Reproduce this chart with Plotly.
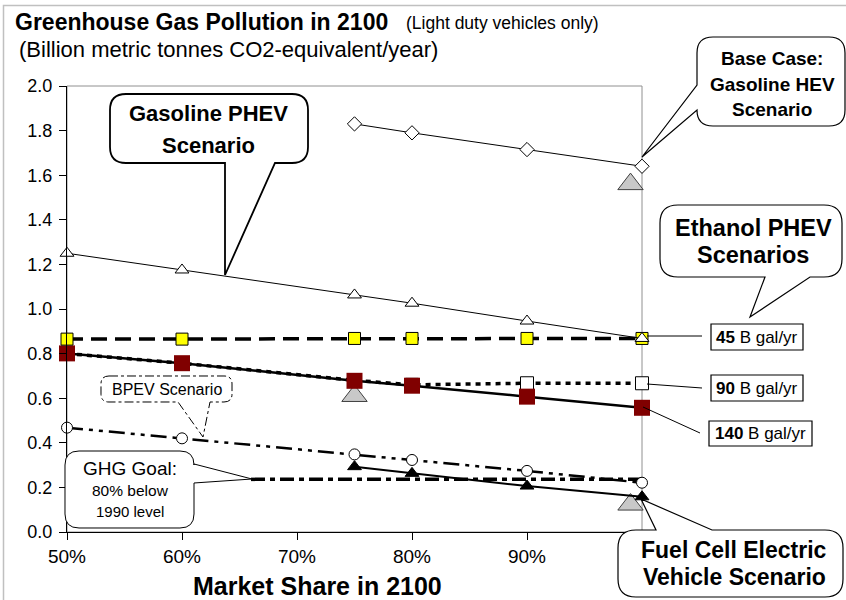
import plotly.graph_objects as go

# ---------------- data ----------------
share = [50, 60, 75, 80, 90, 100]
hev_x = [75, 80, 90, 100]
hev_y = [1.83, 1.79, 1.715, 1.64]
gas_phev_y = [1.25, 1.175, 1.063, 1.026, 0.946, 0.868]
eth45_y = [0.865, 0.865, 0.868, 0.868, 0.868, 0.868]
eth90_y = [0.80, 0.757, 0.68, 0.66, 0.667, 0.667]
eth140_y = [0.801, 0.757, 0.678, 0.656, 0.607, 0.557]
bpev_y = [0.468, 0.420, 0.348, 0.323, 0.274, 0.221]
fcev_x = [75, 80, 90, 100]
fcev_y = [0.293, 0.263, 0.206, 0.158]
ghg_x = [66, 100]
ghg_y = [0.236, 0.236]
ref_x = [99, 75, 99]
ref_y = [1.56, 0.61, 0.123]

x_ticks = [50, 60, 70, 80, 90, 100]
x_ticktext = ["50%", "60%", "70%", "80%", "90%", ""]
y_ticks = [0.0, 0.2, 0.4, 0.6, 0.8, 1.0, 1.2, 1.4, 1.6, 1.8, 2.0]

FONT = "Liberation Sans, Arial, sans-serif"

# plot-area pixel frame
PL, PR, PT, PB = 67, 642, 86, 532
W, H = 846, 600


def P(px, py):
    return ((px - PL) / (PR - PL), (PB - py) / (PB - PT))


def callout_path(x0, y0, x1, y1, r, side=None, a=None, b=None, tip=None):
    s = []

    def M(x, y):
        s.append("M%.5f,%.5f" % P(x, y))

    def L(x, y):
        s.append("L%.5f,%.5f" % P(x, y))

    def Q(cx, cy, x, y):
        s.append("Q%.5f,%.5f %.5f,%.5f" % (P(cx, cy) + P(x, y)))

    M(x0 + r, y0)
    if side == "top":
        L(a, y0); L(*tip); L(b, y0)
    L(x1 - r, y0); Q(x1, y0, x1, y0 + r)
    if side == "right":
        L(x1, a); L(*tip); L(x1, b)
    L(x1, y1 - r); Q(x1, y1, x1 - r, y1)
    if side == "bottom":
        L(b, y1); L(*tip); L(a, y1)
    L(x0 + r, y1); Q(x0, y1, x0, y1 - r)
    if side == "left":
        L(x0, b); L(*tip); L(x0, a)
    L(x0, y0 + r); Q(x0, y0, x0 + r, y0)
    s.append("Z")
    return " ".join(s)


fig = go.Figure()

# reference gray triangles
fig.add_trace(go.Scatter(x=ref_x, y=ref_y, mode="markers", cliponaxis=False,
                         marker=dict(symbol="triangle-up", size=22, color="#C8C8C8",
                                     line=dict(color="#404040", width=1)),
                         showlegend=False))
# GHG goal
fig.add_trace(go.Scatter(x=ghg_x, y=ghg_y, mode="lines", cliponaxis=False,
                         line=dict(color="black", width=3.5, dash="14px,5px,5px,5px"),
                         showlegend=False))
# Base case HEV
fig.add_trace(go.Scatter(x=hev_x, y=hev_y, mode="lines+markers", cliponaxis=False,
                         line=dict(color="black", width=1),
                         marker=dict(symbol="diamond", size=11, color="white",
                                     line=dict(color="black", width=1)),
                         showlegend=False))
# Ethanol 90
fig.add_trace(go.Scatter(x=share, y=eth90_y, mode="lines+markers", cliponaxis=False,
                         line=dict(color="black", width=3.5, dash="5px,5px"),
                         marker=dict(symbol="square", size=13, color="white",
                                     line=dict(color="black", width=1)),
                         showlegend=False))
# Ethanol 140
fig.add_trace(go.Scatter(x=share, y=eth140_y, mode="lines+markers", cliponaxis=False,
                         line=dict(color="black", width=2.5),
                         marker=dict(symbol="square", size=16, color="#800000",
                                     line=dict(color="#800000", width=0)),
                         showlegend=False))
# Ethanol 45
fig.add_trace(go.Scatter(x=share, y=eth45_y, mode="lines+markers", cliponaxis=False,
                         line=dict(color="black", width=3.5, dash="16px,8px"),
                         marker=dict(symbol="square", size=12, color="#FFFF00",
                                     line=dict(color="black", width=1)),
                         showlegend=False))
# Gasoline PHEV
fig.add_trace(go.Scatter(x=share, y=gas_phev_y, mode="lines+markers", cliponaxis=False,
                         line=dict(color="black", width=1),
                         marker=dict(symbol="triangle-up", size=12, color="white",
                                     line=dict(color="black", width=1)),
                         showlegend=False))
# BPEV
fig.add_trace(go.Scatter(x=share, y=bpev_y, mode="lines+markers", cliponaxis=False,
                         line=dict(color="black", width=2.5, dash="16px,6px,4px,6px,4px,6px"),
                         marker=dict(symbol="circle", size=11, color="white",
                                     line=dict(color="black", width=1)),
                         showlegend=False))
# FCEV
fig.add_trace(go.Scatter(x=fcev_x, y=fcev_y, mode="lines+markers", cliponaxis=False,
                         line=dict(color="black", width=2),
                         marker=dict(symbol="triangle-up", size=12, color="black",
                                     line=dict(color="black", width=1)),
                         showlegend=False))

shapes = []
# outer chart frame
x0, y0 = P(3.5, 5.5)
x1, y1 = P(900, 700)
shapes.append(dict(type="rect", xref="paper", yref="paper", x0=x0, y0=y1, x1=x1, y1=y0,
                   line=dict(color="#C0C0C0", width=1.5), layer="below"))
# plot-area border
shapes.append(dict(type="rect", xref="paper", yref="paper", x0=0, y0=0, x1=1, y1=1,
                   line=dict(color="#909090", width=1), layer="below"))

callouts = [
    dict(box=(110, 94, 308, 163), r=16, side="bottom", a=225, b=275, tip=(225, 275), w=1.8, dash=None),
    dict(box=(697, 37, 845, 126), r=16, side="left", a=85, b=110, tip=(642, 157), w=1.2, dash=None),
    dict(box=(660, 205, 842, 277), r=18, side="bottom", a=765, b=810, tip=(750, 317), w=1.2, dash=None),
    dict(box=(618, 530, 843, 597), r=18, side="top", a=656, b=712, tip=(641, 499), w=1.2, dash=None),
    dict(box=(101, 376, 232, 402), r=8, side="bottom", a=178, b=210, tip=(203, 437), w=1, dash="dashdot"),
    dict(box=(65, 451, 194, 528), r=14, side="right", a=464, b=483, tip=(252, 479), w=1, dash=None),
]
for c in callouts:
    bx = c["box"]
    shapes.append(dict(type="path", xref="paper", yref="paper",
                       path=callout_path(bx[0], bx[1], bx[2], bx[3], c["r"], c["side"], c["a"], c["b"], c["tip"]),
                       line=dict(color="black", width=c["w"], dash=c["dash"]),
                       fillcolor="white", layer="above"))

# label boxes with connectors
label_boxes = [
    dict(box=(711, 324, 803, 350), line=((647, 336), (702, 336))),
    dict(box=(711, 375, 803, 401), line=((647, 384), (702, 388))),
    dict(box=(709, 421, 812, 446), line=((643, 407), (700, 433))),
]
for lb in label_boxes:
    bx = lb["box"]
    a0 = P(bx[0], bx[1]); a1 = P(bx[2], bx[3])
    shapes.append(dict(type="rect", xref="paper", yref="paper", x0=a0[0], y0=a1[1], x1=a1[0], y1=a0[1],
                       line=dict(color="black", width=1.2), fillcolor="white", layer="above"))
    p0 = P(*lb["line"][0]); p1 = P(*lb["line"][1])
    shapes.append(dict(type="line", xref="paper", yref="paper", x0=p0[0], y0=p0[1], x1=p1[0], y1=p1[1],
                       line=dict(color="black", width=1), layer="above"))

annotations = []


def ann(px, py, text, size, xanchor="center", color="black"):
    x, y = P(px, py)
    annotations.append(dict(x=x, y=y, xref="paper", yref="paper", text=text, showarrow=False,
                            xanchor=xanchor, yanchor="middle",
                            font=dict(family=FONT, size=size, color=color)))


ann(13, 22, "<b>Greenhouse Gas Pollution in 2100</b>", 23, "left")
ann(404, 23, "(Light duty vehicles only)", 17.5, "left")
ann(17, 50, "(Billion metric tonnes CO2-equivalent/year)", 22, "left")
ann(317, 586, "<b>Market Share in 2100</b>", 25)

ann(208, 114, "<b>Gasoline PHEV</b>", 22)
ann(208, 145, "<b>Scenario</b>", 22)
ann(772, 58, "<b>Base Case:</b>", 19)
ann(772, 84, "<b>Gasoline HEV</b>", 19)
ann(772, 109, "<b>Scenario</b>", 19)
ann(753, 228, "<b>Ethanol PHEV</b>", 23.5)
ann(753, 255, "<b>Scenarios</b>", 23.5)
ann(734, 550, "<b>Fuel Cell Electric</b>", 23)
ann(734, 577, "<b>Vehicle Scenario</b>", 23)
ann(757, 337, "<b>45</b> B gal/yr", 17)
ann(757, 388, "<b>90</b> B gal/yr", 17)
ann(760, 433, "<b>140</b> B gal/yr", 17)
ann(167, 389, "BPEV Scenario", 16)
ann(130, 468, "GHG Goal:", 19)
ann(130, 490, "80% below", 15.5)
ann(130, 511, "1990 level", 15)

fig.update_layout(
    width=W, height=H, autosize=False,
    margin=dict(l=PL, r=W - PR, t=PT, b=H - PB, pad=0),
    paper_bgcolor="white", plot_bgcolor="white",
    font=dict(family=FONT, color="black"),
    shapes=shapes, annotations=annotations,
    showlegend=False,
    xaxis=dict(range=[50, 100], tickvals=x_ticks, ticktext=x_ticktext,
               showgrid=False, zeroline=False, showline=True, linecolor="black", linewidth=1,
               ticks="outside", ticklen=7, tickcolor="black", tickwidth=1,
               tickfont=dict(family=FONT, size=19, color="black")),
    yaxis=dict(range=[0, 2], tickvals=y_ticks, tickformat=".1f",
               showgrid=False, zeroline=False, showline=True, linecolor="black", linewidth=1,
               ticks="outside", ticklen=7, tickcolor="black", tickwidth=1,
               ticklabelstandoff=3,
               tickfont=dict(family=FONT, size=18, color="black")),
)

fig.write_html("out.html", config=dict(displayModeBar=False),
               post_script="document.body.style.margin='0';document.body.style.overflow='hidden';")
